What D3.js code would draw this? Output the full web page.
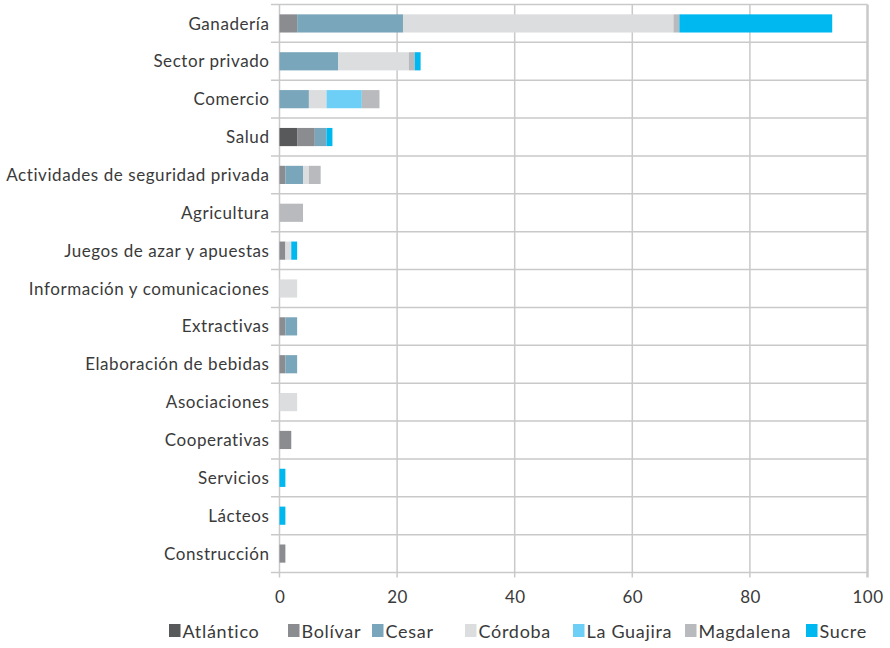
<!DOCTYPE html>
<html>
<head>
<meta charset="utf-8">
<script src="https://cdn.jsdelivr.net/npm/d3@7"></script>
<style>
  html, body { margin: 0; padding: 0; background: #fff; }
  svg { display: block; }
  text { font-family: Lato, "Open Sans", sans-serif; fill: #3a3a3a; }
</style>
</head>
<body>
<svg id="chart" width="890" height="648"></svg>
<script>
// Sectors (top to bottom)
const categories = [
  "Ganadería", "Sector privado", "Comercio", "Salud",
  "Actividades de seguridad privada", "Agricultura", "Juegos de azar y apuestas",
  "Información y comunicaciones", "Extractivas", "Elaboración de bebidas",
  "Asociaciones", "Cooperativas", "Servicios", "Lácteos", "Construcción"
];

// Departments, in stacking order
const seriesNames = ["Atlántico", "Bolívar", "Cesar", "Córdoba", "La Guajira", "Magdalena", "Sucre"];
const seriesColors = ["#58595b", "#8b8c90", "#7aa6bb", "#dcdddf", "#6dcff6", "#b9babd", "#00b8f0"];

// Counts per sector for each department
const atlantico = [0, 0, 0, 3, 0, 0, 0, 0, 0, 0, 0, 0, 0, 0, 0];
const bolivar   = [3, 0, 0, 3, 1, 0, 1, 0, 1, 1, 0, 2, 0, 0, 1];
const cesar     = [18, 10, 5, 2, 3, 0, 0, 0, 2, 2, 0, 0, 0, 0, 0];
const cordoba   = [46, 12, 3, 0, 1, 0, 1, 3, 0, 0, 3, 0, 0, 0, 0];
const laGuajira = [0, 0, 6, 0, 0, 0, 0, 0, 0, 0, 0, 0, 0, 0, 0];
const magdalena = [1, 1, 3, 0, 2, 4, 0, 0, 0, 0, 0, 0, 0, 0, 0];
const sucre     = [26, 1, 0, 1, 0, 0, 1, 0, 0, 0, 0, 0, 1, 1, 0];

const xTicks = [0, 20, 40, 60, 80, 100];

const seriesValues = [atlantico, bolivar, cesar, cordoba, laGuajira, magdalena, sucre];
const rows = categories.map((c, i) => {
  const r = { category: c };
  seriesNames.forEach((s, j) => { r[s] = seriesValues[j][i]; });
  return r;
});

const svg = d3.select("#chart");
const plot = { left: 279.5, right: 867.5, top: 4.5, bottom: 572.5 };

const x = d3.scaleLinear().domain([0, 100]).range([plot.left, plot.right]);
const y = d3.scaleBand().domain(categories).range([plot.top, plot.bottom])
  .paddingInner(0.52).paddingOuter(0.26);
const color = d3.scaleOrdinal().domain(seriesNames).range(seriesColors);

const grid = svg.append("g").attr("stroke", "#c9c9c9").attr("stroke-width", 1.5);

// Horizontal separators between sectors
const step = y.step();
const bounds = d3.range(categories.length + 1).map(i => plot.top + i * step);
grid.selectAll("line.h").data(bounds).join("line")
  .attr("class", "h")
  .attr("x1", 271).attr("x2", plot.right)
  .attr("y1", d => d).attr("y2", d => d);

// Vertical gridlines at each tick, running a little below the axis
grid.selectAll("line.v").data(xTicks).join("line")
  .attr("class", "v")
  .attr("x1", d => x(d)).attr("x2", d => x(d))
  .attr("y1", plot.top).attr("y2", plot.bottom + 5)
  .attr("stroke-width", d => d === 100 ? 2.5 : 1.5);

// Stacked bars
const stack = d3.stack().keys(seriesNames);
const layers = stack(rows);
svg.append("g").selectAll("g").data(layers).join("g")
  .attr("fill", d => color(d.key))
  .selectAll("rect").data(d => d).join("rect")
  .attr("x", d => x(d[0]))
  .attr("width", d => x(d[1]) - x(d[0]))
  .attr("y", d => y(d.data.category))
  .attr("height", y.bandwidth());

// Category labels
svg.append("g").selectAll("text").data(categories).join("text")
  .attr("x", 269.5)
  .attr("y", d => y(d) + y.bandwidth() / 2)
  .attr("dy", "0.36em")
  .attr("text-anchor", "end")
  .style("font-size", "17px")
  .style("letter-spacing", "0.57px")
  .text(d => d);

// Value axis labels
const xAxis = d3.axisBottom(x).tickValues(xTicks).tickSize(0).tickPadding(0);
const ax = svg.append("g").attr("transform", `translate(0,${plot.bottom + 18})`).call(xAxis);
ax.select(".domain").remove();
ax.selectAll("text").style("font-size", "17px").style("letter-spacing", "0.4px")
  .attr("dy", "0.71em").attr("font-family", null);

// Legend entries, laid out left to right along the bottom
const legendX = [169, 288, 372, 465, 573, 685, 806];
const legend = svg.append("g");
seriesNames.forEach((name, i) => {
  const g = legend.append("g").attr("transform", `translate(${legendX[i]},0)`);
  g.append("rect").attr("x", 0).attr("y", 624).attr("width", 11.5).attr("height", 13)
    .attr("fill", color(name));
  g.append("text").attr("x", 13.5).attr("y", 637.5)
    .style("font-size", "18px").style("letter-spacing", "0.7px").text(name);
});
</script>
</body>
</html>
